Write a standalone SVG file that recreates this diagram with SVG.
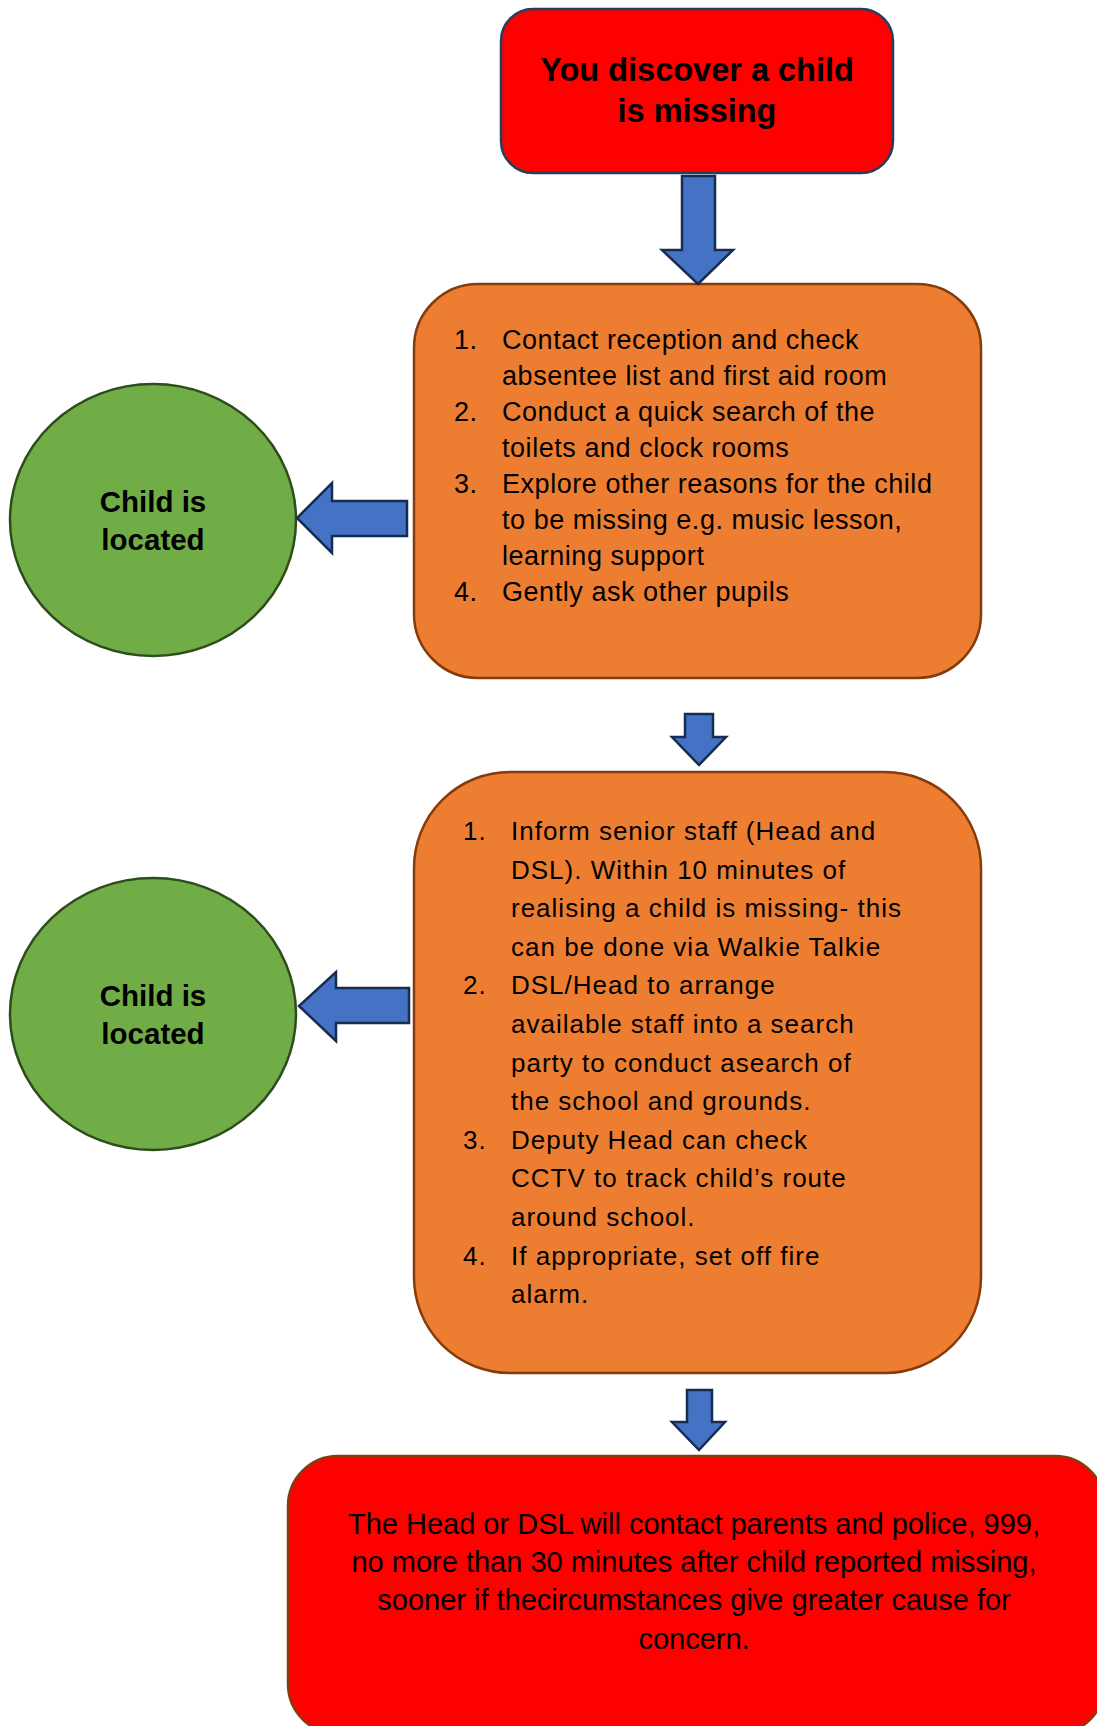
<svg xmlns="http://www.w3.org/2000/svg" width="1097" height="1726" viewBox="0 0 1097 1726">
<defs>
<style>
.red{fill:#FF0000}
.orange{fill:#ED7D31;stroke:#843C0C;stroke-width:2.5}
.green{fill:#70AD47;stroke:#2E4D1C;stroke-width:2.5}
.arrow{fill:#4472C4;stroke:#172C51;stroke-width:2.5;stroke-linejoin:miter}
.t{font-family:"Liberation Sans",Arial,sans-serif;fill:#000}
.b{font-weight:bold}
.l1{font-size:27px;letter-spacing:0.55px}
.l2{font-size:26px;letter-spacing:1px}
.l3{font-size:29px}
</style>
</defs>
<rect width="1097" height="1726" fill="#FFFFFF"/>
<g id="start">
<rect class="red" x="501" y="9" width="392" height="164" rx="32" stroke="#243F60" stroke-width="2.5"/>
<text class="t b" x="697" y="81" font-size="32.5" text-anchor="middle">You discover a child</text>
<text class="t b" x="697" y="122" font-size="32.5" text-anchor="middle">is missing</text>
</g>
<g id="step1">
<rect class="orange" x="414" y="284" width="567" height="394" rx="64"/>
<g class="t l1">
<text x="454" y="349">1.</text><text x="502" y="349">Contact reception and check</text>
<text x="502" y="385">absentee list and first aid room</text>
<text x="454" y="421">2.</text><text x="502" y="421">Conduct a quick search of the</text>
<text x="502" y="457">toilets and clock rooms</text>
<text x="454" y="493">3.</text><text x="502" y="493">Explore other reasons for the child</text>
<text x="502" y="529">to be missing e.g. music lesson,</text>
<text x="502" y="565">learning support</text>
<text x="454" y="601">4.</text><text x="502" y="601">Gently ask other pupils</text>
</g>
</g>
<g id="located1">
<ellipse class="green" cx="153" cy="520" rx="143" ry="136"/>
<text class="t b" x="153" y="512" font-size="29.5" text-anchor="middle">Child is</text>
<text class="t b" x="153" y="550" font-size="29.5" text-anchor="middle">located</text>
</g>
<g id="step2">
<rect class="orange" x="414" y="772" width="567" height="601" rx="96"/>
<g class="t l2">
<text x="463" y="840">1.</text><text x="511" y="840">Inform senior staff (Head and</text>
<text x="511" y="878.6">DSL). Within 10 minutes of</text>
<text x="511" y="917.2">realising a child is missing- this</text>
<text x="511" y="955.8">can be done via Walkie Talkie</text>
<text x="463" y="994.4">2.</text><text x="511" y="994.4">DSL/Head to arrange</text>
<text x="511" y="1033">available staff into a search</text>
<text x="511" y="1071.6">party to conduct asearch of</text>
<text x="511" y="1110.2">the school and grounds.</text>
<text x="463" y="1148.8">3.</text><text x="511" y="1148.8">Deputy Head can check</text>
<text x="511" y="1187.4">CCTV to track child’s route</text>
<text x="511" y="1226">around school.</text>
<text x="463" y="1264.6">4.</text><text x="511" y="1264.6">If appropriate, set off fire</text>
<text x="511" y="1303.2">alarm.</text>
</g>
</g>
<g id="located2">
<ellipse class="green" cx="153" cy="1014" rx="143" ry="136"/>
<text class="t b" x="153" y="1006" font-size="29.5" text-anchor="middle">Child is</text>
<text class="t b" x="153" y="1044" font-size="29.5" text-anchor="middle">located</text>
</g>
<g id="end">
<rect class="red" x="288" y="1456" width="817" height="278" rx="50" stroke="#843C0C" stroke-width="2.5"/>
<g class="t l3" text-anchor="middle">
<text x="694" y="1534">The Head or DSL will contact parents and police, 999,</text>
<text x="694" y="1572">no more than 30 minutes after child reported missing,</text>
<text x="694" y="1610">sooner if thecircumstances give greater cause for</text>
<text x="694" y="1649">concern.</text>
</g>
</g>
<g id="connectors">
<polygon class="arrow" points="682,176 715,176 715,250 733,250 698,284 662,250 682,250"/>
<polygon class="arrow" points="407,501 407,536 332,536 332,553 297,518 332,483 332,501"/>
<polygon class="arrow" points="685,714 713,714 713,737 726,737 699,765 672,737 685,737"/>
<polygon class="arrow" points="409,988 409,1023 336,1023 336,1041 299,1006 336,972 336,988"/>
<polygon class="arrow" points="687,1390 712,1390 712,1422 725,1422 699,1450 672,1422 687,1422"/>
</g>
</svg>
